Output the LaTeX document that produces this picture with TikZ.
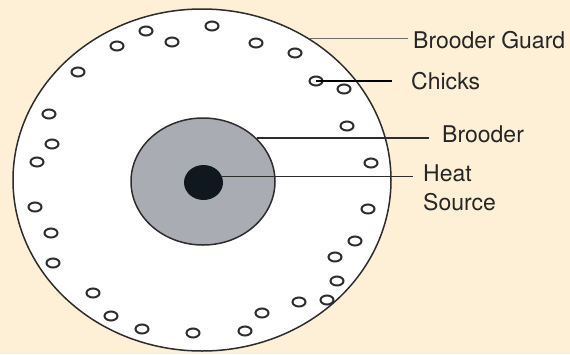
\documentclass[tikz,border=0pt]{standalone}
\usepackage{xcolor}
\usepackage{fontspec}
\setsansfont{TeX Gyre Heros}
\usepackage{tikz}
\usetikzlibrary{shapes.geometric, positioning}

\definecolor{paper}{RGB}{253,240,214}
\definecolor{broodgray}{RGB}{170,172,179}
\definecolor{heatblack}{RGB}{14,24,30}
\definecolor{inkline}{RGB}{45,45,45}

\begin{document}
\begin{tikzpicture}[
    x=1pt, y=-1pt,
    area/.style={ellipse, draw=inkline, line width=1.5pt, inner sep=0pt},
    chick/.style={ellipse, draw=inkline, line width=2pt, minimum width=13pt, minimum height=9pt, inner sep=0pt},
    lbl/.style={anchor=west, inner sep=0pt, text=black!85, font=\sffamily\fontsize{23}{29}\selectfont},
    pointer/.style={draw=inkline, line width=1.2pt}
]
\fill[paper] (0,0) rectangle (570,354);
\useasboundingbox (0,0) rectangle (570,354);

\node [area, fill=white, minimum width=378pt, minimum height=342pt] (guard) at (202,180) {};
\node [area, fill=broodgray, minimum width=144pt, minimum height=127pt] (brooder) at (203,181.5) {};
\node [ellipse, fill=heatblack, minimum width=39pt, minimum height=35pt, inner sep=0pt] (heat) at (203.5,182.5) {};

% chicks round the guard
\foreach \cx/\cy [count=\i] in {78/72, 117/46, 146/31, 172/42, 212/26, 256/43, 295/53, 316/81,
    344/89, 347/126, 371/163, 368/209, 355/241, 335/257, 337/281, 327/300, 299/302, 262/313,
    245/331, 193/333, 142/329, 111/316, 93/293, 53/263, 51/233, 35/207, 37/162, 52/144, 49/114}
    \node [chick] (c\i) at (\cx,\cy) {};

\node [lbl] (lblguard) at (413,40.5) {Brooder Guard};
\node [lbl] (lblchicks) at (411,81) {Chicks};
\node [lbl] (lblbrooder) at (442,134.5) {Brooder};
\node [lbl, anchor=north west, align=left] (lblheat) at (423,165) {Heat\\Source};

\coordinate (guardend) at (408,39);
\coordinate (chickend) at (392,81);
\coordinate (brooderend) at (429,138);
\coordinate (heatend) at (413,177);

\path [pointer, draw=inkline!70] (guard.53) -- (guard.53 -| guardend);
\path [pointer, draw=black, line width=1.8pt] (c8.center) -- (chickend);
\path [pointer] (brooder.39) -- (brooder.39 -| brooderend);
\path [pointer] (heat.18) -- (heat.18 -| heatend);

\end{tikzpicture}
\end{document}
